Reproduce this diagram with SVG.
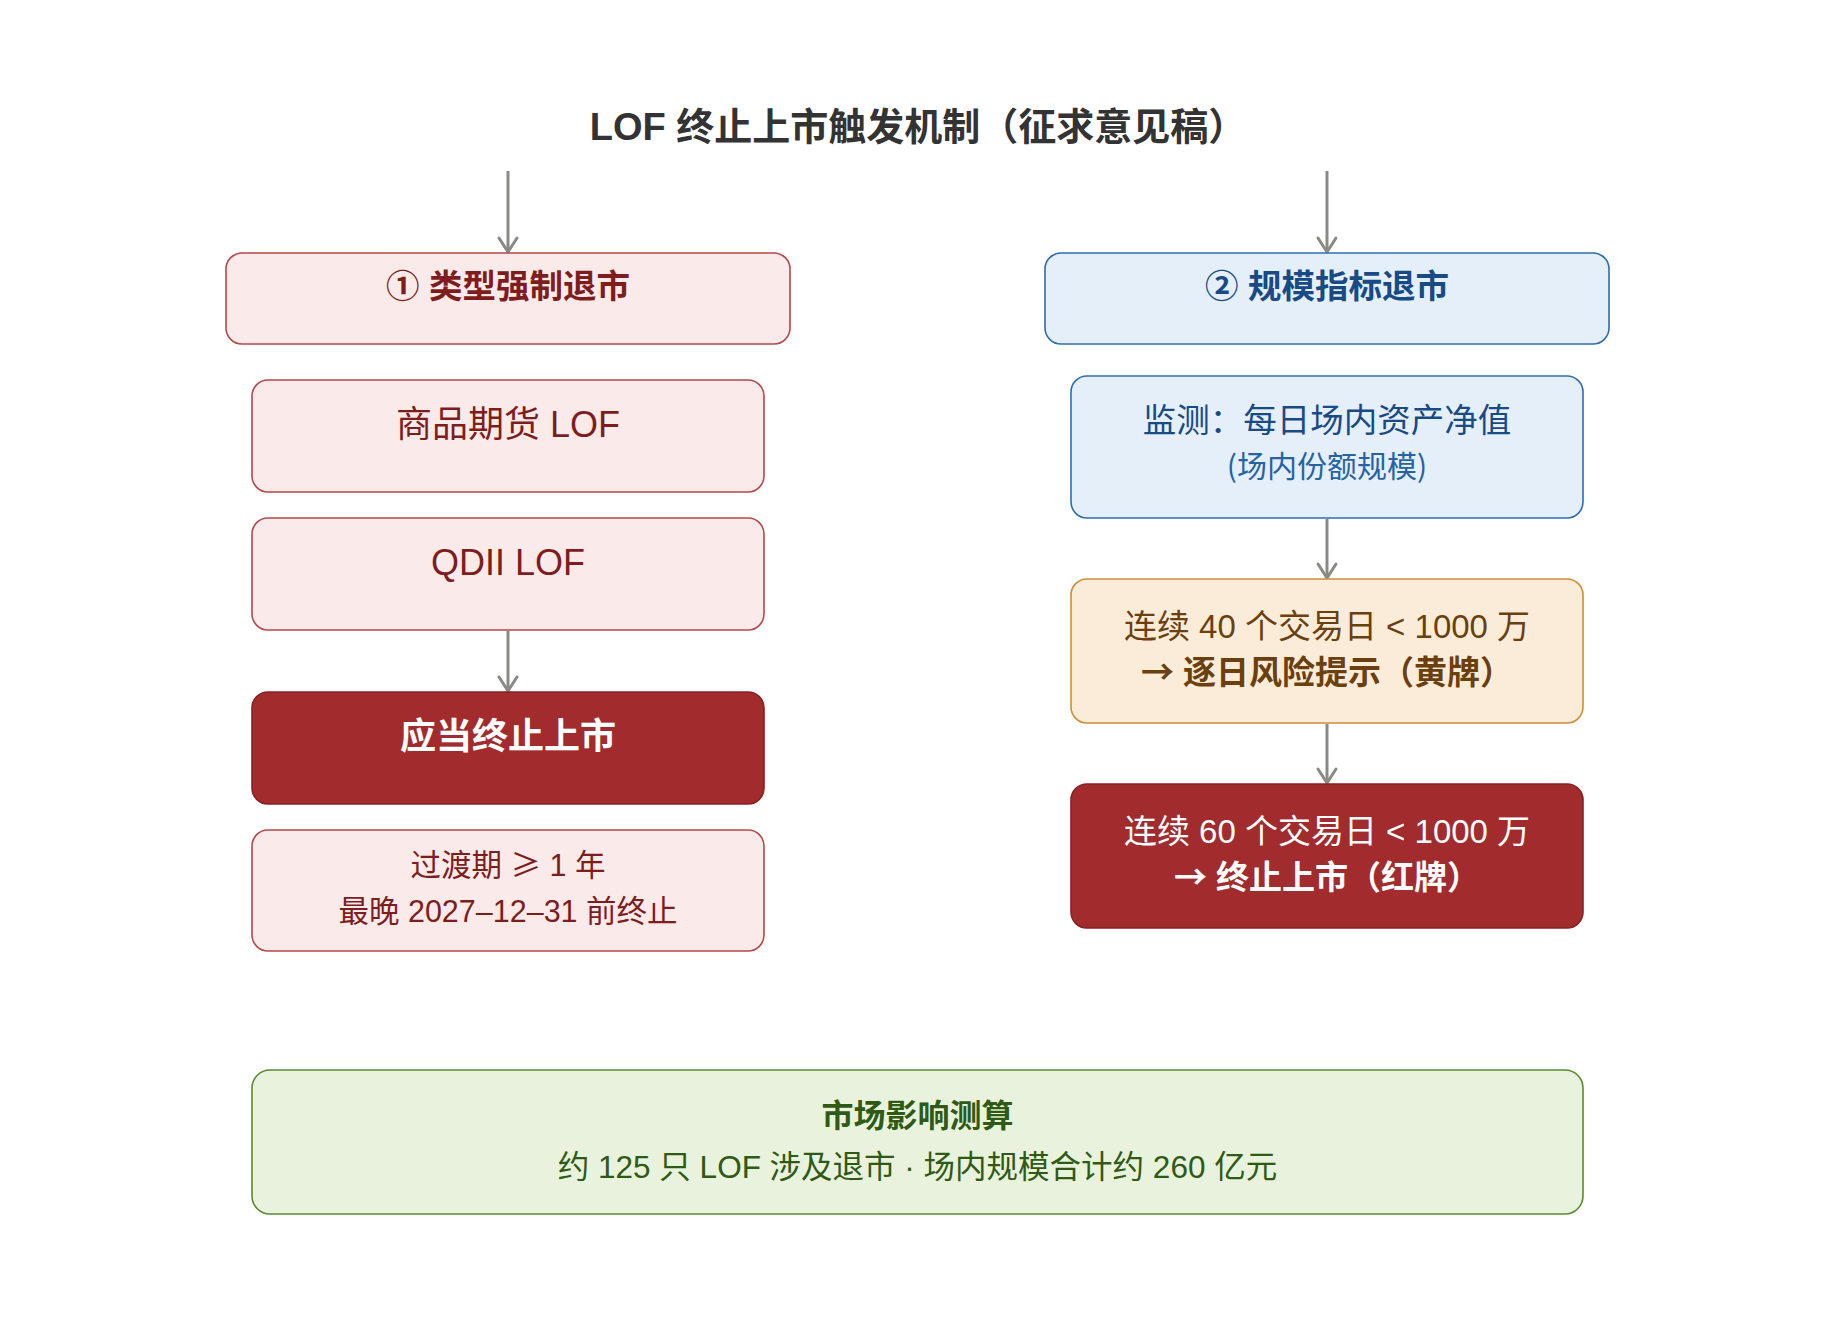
<svg xmlns="http://www.w3.org/2000/svg" width="1836" height="1326" viewBox="0 0 1836 1326">
  <style>
    text { font-family: "Liberation Sans", "Noto Sans CJK SC", sans-serif; text-anchor: middle; }
    .cjk { font-family: "Noto Sans CJK SC", sans-serif; }
    .title { font-size: 38px; font-weight: 700; fill: #333333; }
    .pink { fill: #fbeaea; stroke: #b5474a; stroke-width: 1.6; }
    .dark { fill: #a22b2e; stroke: #8a2023; stroke-width: 1.6; }
    .blue { fill: #e5eff9; stroke: #2f6db2; stroke-width: 1.6; }
    .yellow { fill: #faecd9; stroke: #cf8d36; stroke-width: 1.6; }
    .green { fill: #e9f2dd; stroke: #5b8a30; stroke-width: 1.6; }
    .hdr { font-size: 33.5px; font-weight: 700; }
    .tRed { fill: #7f1d1d; }
    .tBlue { fill: #184a86; }
    .tBlue2 { fill: #2563a6; }
    .tBrown { fill: #6b3f0e; }
    .tWhite { fill: #ffffff; }
    .tGreen { fill: #2f5a14; }
    .conn { stroke: #8a8a85; stroke-width: 3; fill: none; }
  </style>
  <defs>
    <marker id="arr" markerUnits="userSpaceOnUse" markerWidth="30" markerHeight="30" viewBox="-20 -15 30 30" refX="0" refY="0" orient="auto" overflow="visible">
      <path d="M-14,-9 L0,0 L-14,9" fill="none" stroke="#8a8a85" stroke-width="3" stroke-linecap="round" stroke-linejoin="round"/>
    </marker>
  </defs>
  <rect width="1836" height="1326" fill="#ffffff"/>

  <text id="title" class="title" x="918" y="140">LOF 终止上市触发机制（征求意见稿）</text>

  <g id="connectors">
    <line class="conn" x1="508" y1="171" x2="508" y2="252" marker-end="url(#arr)"/>
    <line class="conn" x1="1327" y1="171" x2="1327" y2="252" marker-end="url(#arr)"/>
    <line class="conn" x1="508" y1="631" x2="508" y2="691" marker-end="url(#arr)"/>
    <line class="conn" x1="1327" y1="519" x2="1327" y2="578" marker-end="url(#arr)"/>
    <line class="conn" x1="1327" y1="724" x2="1327" y2="783" marker-end="url(#arr)"/>
  </g>

  <g id="hdr-left">
    <rect class="pink" x="226" y="253" width="564" height="91" rx="16"/>
    <text class="hdr tRed" x="508" y="298">① 类型强制退市</text>
  </g>
  <g id="hdr-right">
    <rect class="blue" x="1045" y="253" width="564" height="91" rx="16"/>
    <text class="hdr tBlue" x="1327" y="298">② 规模指标退市</text>
  </g>

  <g id="commodity">
    <rect class="pink" x="252" y="380" width="512" height="112" rx="16"/>
    <text class="tRed" x="508" y="437" font-size="36">商品期货 LOF</text>
  </g>
  <g id="qdii">
    <rect class="pink" x="252" y="518" width="512" height="112" rx="16"/>
    <text class="tRed" x="508" y="575" font-size="36">QDII LOF</text>
  </g>
  <g id="delist-must">
    <rect class="dark" x="252" y="692" width="512" height="112" rx="16"/>
    <text class="tWhite" x="508" y="749" font-size="36" font-weight="700">应当终止上市</text>
  </g>
  <g id="transition">
    <rect class="pink" x="252" y="830" width="512" height="121" rx="16"/>
    <text class="tRed" x="508" y="876" font-size="30.5">过渡期 <tspan class="cjk">≥</tspan> 1 年</text>
    <text class="tRed" x="508" y="922" font-size="30.5">最晚 2027–12–31 前终止</text>
  </g>

  <g id="monitor">
    <rect class="blue" x="1071" y="376" width="512" height="142" rx="16"/>
    <text class="tBlue" x="1327" y="432" font-size="33.5">监测：每日场内资产净值</text>
    <text class="tBlue2 cjk" x="1327" y="477" font-size="30">(场内份额规模)</text>
  </g>
  <g id="yellow-card">
    <rect class="yellow" x="1071" y="579" width="512" height="144" rx="16"/>
    <text class="tBrown" x="1327" y="638" font-size="33">连续 40 个交易日 &lt; 1000 万</text>
    <text class="tBrown" x="1327" y="684" font-size="33" font-weight="700"><tspan class="cjk">→</tspan> 逐日风险提示（黄牌）</text>
  </g>
  <g id="red-card">
    <rect class="dark" x="1071" y="784" width="512" height="144" rx="16"/>
    <text class="tWhite" x="1327" y="843" font-size="33">连续 60 个交易日 &lt; 1000 万</text>
    <text class="tWhite" x="1327" y="889" font-size="33" font-weight="700"><tspan class="cjk">→</tspan> 终止上市（红牌）</text>
  </g>

  <g id="impact">
    <rect class="green" x="252" y="1070" width="1331" height="144" rx="18"/>
    <text class="tGreen" x="917.5" y="1127" font-size="32" font-weight="700">市场影响测算</text>
    <text class="tGreen" x="917.5" y="1178" font-size="31.5">约 125 只 LOF 涉及退市 · 场内规模合计约 260 亿元</text>
  </g>
</svg>
